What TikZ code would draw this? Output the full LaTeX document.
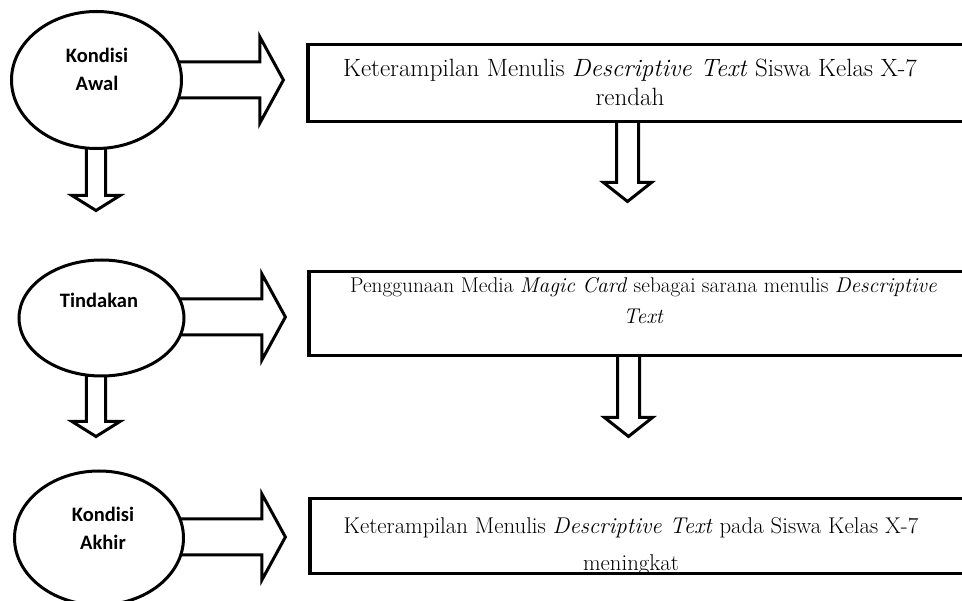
\documentclass[tikz,border=0pt]{standalone}
\usepackage{fontspec}
\newfontfamily\calibri{Carlito}
\usetikzlibrary{shapes.geometric,calc}
\pgfdeclarelayer{background}
\pgfsetlayers{background,main}

\tikzset{
  stage/.style={ellipse, draw, fill=white, line width=3pt, inner sep=0pt},
  stagetext/.style={font=\calibri\bfseries\fontsize{20.5}{28}\selectfont, align=center, inner sep=0pt},
  frame/.style={rectangle, draw, fill=white, line width=3.2pt, inner sep=0pt, anchor=west, minimum width=720pt},
  desc/.style={align=center, inner sep=0pt, anchor=base},
  fat/.style={draw, fill=white, line width=3pt}
}

% block arrows: #1 start, #2 tip
\newcommand{\fatright}[2]{%
  \draw[fat] let \p1=#1, \p2=#2 in
    (\x1,\y2+18pt) -- (\x2-23.5pt,\y2+18pt) -- (\x2-23.5pt,\y2+43pt) -- (\p2) --
    (\x2-23.5pt,\y2-43pt) -- (\x2-23.5pt,\y2-18pt) -- (\x1,\y2-18pt) -- cycle;}
% #3 half shaft, #4 half head, #5 head length
\newcommand{\fatdown}[5]{%
  \draw[fat] let \p1=#1, \p2=#2 in
    (\x2-#3,\y1) -- (\x2-#3,\y2+#5) -- (\x2-#4,\y2+#5) -- (\p2) --
    (\x2+#4,\y2+#5) -- (\x2+#3,\y2+#5) -- (\x2+#3,\y1) -- cycle;}

\begin{document}
\begin{tikzpicture}[x=1pt,y=-1pt]
  \useasboundingbox (0,0) rectangle (962,601);

  % stages
  \node[stage, minimum width=170pt, minimum height=137pt] (awal) at (96.5,80) {};
  \node[stage, minimum width=165pt, minimum height=116pt] (tindakan) at (101.5,318) {};
  \node[stage, minimum width=169pt, minimum height=134pt] (akhir) at (99,538) {};
  \node[stagetext] (awalT) at (97,69) {Kondisi\\Awal};
  \node[stagetext] (tindakanT) at (99,300) {Tindakan};
  \node[stagetext] (akhirT) at (103,528) {Kondisi\\Akhir};

  % descriptions (base = last line)
  \node[frame, minimum height=77pt] (hasil1) at (306.4,83) {};
  \node[frame, minimum height=84pt] (hasil2) at (307.4,313.5) {};
  \node[frame, minimum height=75pt] (hasil3) at (308.4,536) {};
  \node[desc, font=\fontsize{25}{29}\selectfont] (hasil1T) at (630,106)
    {Keterampilan Menulis \textit{Descriptive Text} Siswa Kelas X-7\\rendah};
  \node[desc, font=\fontsize{21.3}{31}\selectfont] (hasil2T) at (643.5,324)
    {Penggunaan Media \textit{Magic Card} sebagai sarana menulis \textit{Descriptive}\\\textit{Text}};
  \node[desc, font=\fontsize{22.8}{36}\selectfont] (hasil3T) at (631,570)
    {Keterampilan Menulis \textit{Descriptive Text} pada Siswa Kelas X-7\\meningkat};

  \coordinate (tipAwal) at ($(awal.center -| hasil1.west)+(-23,0)$);
  \coordinate (tipTindakan) at ($(tindakan.center -| hasil2.west)+(-22,-1)$);
  \coordinate (tipAkhir) at ($(akhir.center -| hasil3.west)+(-23,-1)$);
  \coordinate (tipLeft1) at (96,210.5);
  \coordinate (tipLeft2) at (96,436.5);
  \coordinate (tipHasil1) at (627.5,201.5);
  \coordinate (tipHasil2) at (628.5,436.5);

  \begin{pgfonlayer}{background}
    \fatright{(awal.center)}{(tipAwal)}
    \fatright{(tindakan.center)}{(tipTindakan)}
    \fatright{(akhir.center)}{(tipAkhir)}
    \fatdown{(awal.center)}{(tipLeft1)}{9.7pt}{24pt}{15pt}
    \fatdown{(tindakan.center)}{(tipLeft2)}{9.7pt}{24pt}{15pt}
    \fatdown{(hasil1.center)}{(tipHasil1)}{11pt}{24pt}{19pt}
    \fatdown{(hasil2.center)}{(tipHasil2)}{11pt}{24pt}{19pt}
  \end{pgfonlayer}
\end{tikzpicture}
\end{document}
